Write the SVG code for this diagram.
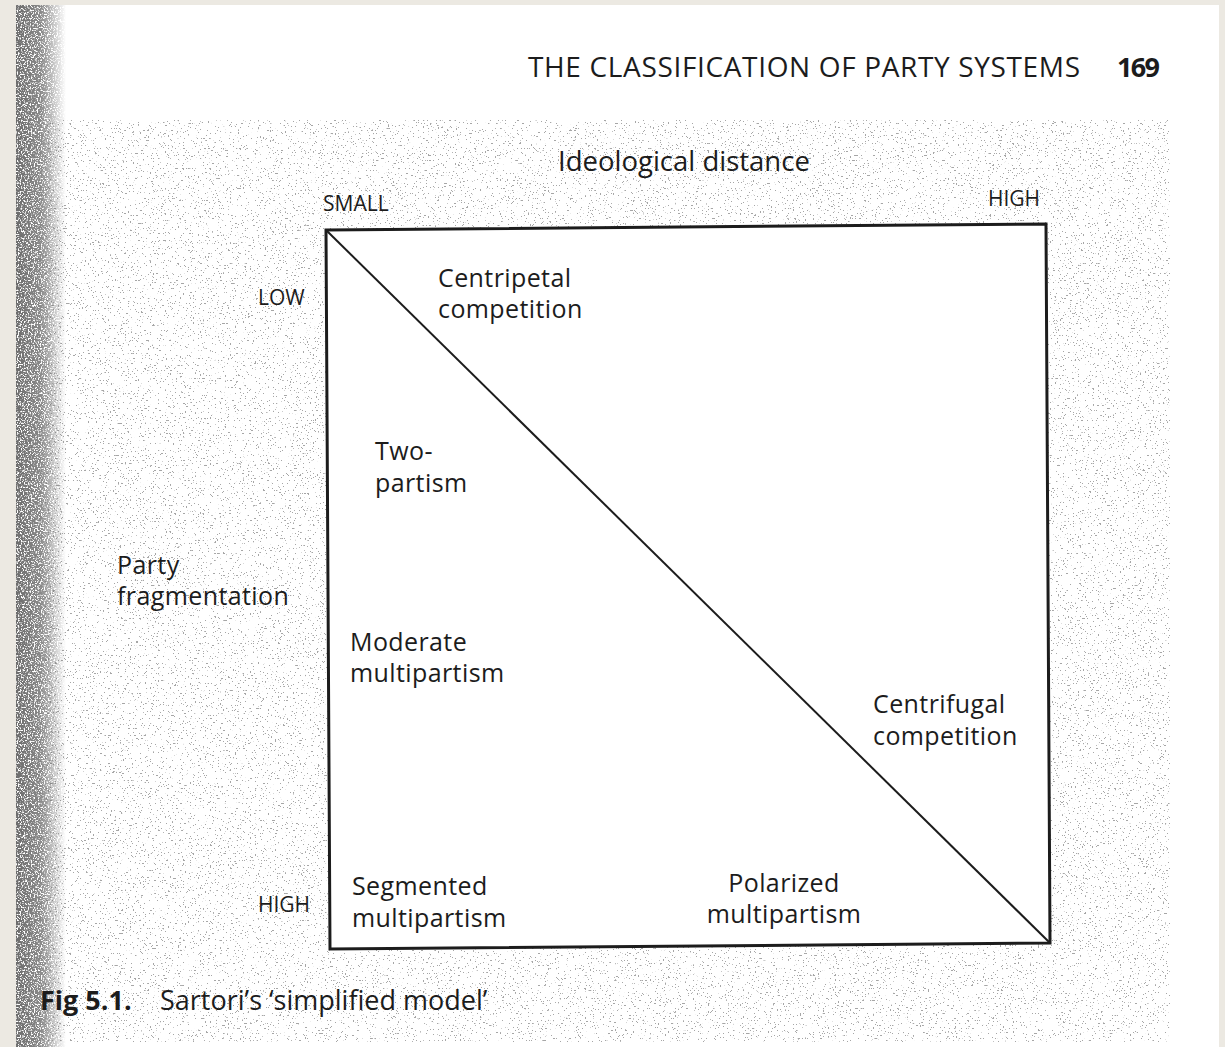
<svg xmlns="http://www.w3.org/2000/svg" width="1225" height="1047" viewBox="0 0 1225 1047">
  <defs>
    <style>
      .t { font-family: "Open Sans", "Lato", "Liberation Sans", sans-serif; fill: #1c1c1c; }
      .lbl { font-size: 25px; letter-spacing: 0.4px; }
      .ax { font-size: 21px; }
      .frame { fill: #ffffff; stroke: #1c1c1c; stroke-width: 3; }
      .diag { stroke: #1c1c1c; stroke-width: 2; }
    </style>
    <filter id="stipple" x="0" y="0" width="100%" height="100%" filterUnits="objectBoundingBox">
      <feTurbulence type="fractalNoise" baseFrequency="0.6" numOctaves="2" seed="7" result="n"/>
      <feColorMatrix in="n" type="matrix" values="0 0 0 0 0.15  0 0 0 0 0.15  0 0 0 0 0.15  -30 0 0 0 9.8"/>
    </filter>
    <filter id="edgenoise" x="0" y="0" width="100%" height="100%" filterUnits="objectBoundingBox">
      <feTurbulence type="fractalNoise" baseFrequency="0.7" numOctaves="2" seed="3" result="n"/>
      <feColorMatrix in="n" type="matrix" values="0 0 0 0 0.15  0 0 0 0 0.15  0 0 0 0 0.15  -6 0 0 0 4.0"/>
    </filter>
    <linearGradient id="fade" x1="0" y1="0" x2="1" y2="0">
      <stop offset="0" stop-color="#fff" stop-opacity="1"/>
      <stop offset="0.5" stop-color="#fff" stop-opacity="0.8"/>
      <stop offset="1" stop-color="#fff" stop-opacity="0"/>
    </linearGradient>
    <mask id="edgemask" maskUnits="userSpaceOnUse" x="16" y="5" width="50" height="1042">
      <rect x="16" y="5" width="50" height="1042" fill="url(#fade)"/>
    </mask>
  </defs>

  <!-- page -->
  <rect x="0" y="0" width="1225" height="1047" fill="#ece9e2"/>
  <rect x="16" y="5" width="1203" height="1042" fill="#ffffff"/>
  <!-- stipple texture of the scan -->
  <rect x="45" y="120" width="1125" height="922" fill="#000" filter="url(#stipple)" opacity="0.6"/>
  <g mask="url(#edgemask)">
    <rect x="16" y="5" width="50" height="1042" fill="#000" filter="url(#edgenoise)"/>
  </g>

  <!-- header -->
  <g id="header">
    <text class="t" x="528" y="77" font-size="28" textLength="552">THE CLASSIFICATION OF PARTY SYSTEMS</text>
    <text class="t" x="1117" y="77" font-size="27" font-weight="bold" textLength="43">169</text>
  </g>

  <!-- chart frame -->
  <g id="frame">
    <polygon class="frame" points="326,230 1046,224 1050,943 330,949"/>
  </g>

  <g id="connectors">
    <line class="diag" x1="327" y1="231" x2="1049" y2="942"/>
  </g>

  <!-- axis titles and ends -->
  <g id="x-axis">
    <text class="t" x="558" y="171" font-size="27.5">Ideological distance</text>
    <text class="t ax" x="323" y="211">SMALL</text>
    <text class="t ax" x="988" y="206">HIGH</text>
  </g>
  <g id="y-axis">
    <text class="t lbl" x="117" y="574">Party</text>
    <text class="t lbl" x="117" y="605">fragmentation</text>
    <text class="t ax" x="258" y="305">LOW</text>
    <text class="t ax" x="258" y="912">HIGH</text>
  </g>

  <!-- region labels -->
  <g id="centripetal">
    <text class="t lbl" x="438" y="287">Centripetal</text>
    <text class="t lbl" x="438" y="318">competition</text>
  </g>
  <g id="two-partism">
    <text class="t lbl" x="375" y="460">Two-</text>
    <text class="t lbl" x="375" y="492">partism</text>
  </g>
  <g id="moderate">
    <text class="t lbl" x="350" y="651">Moderate</text>
    <text class="t lbl" x="350" y="682">multipartism</text>
  </g>
  <g id="centrifugal">
    <text class="t lbl" x="873" y="713">Centrifugal</text>
    <text class="t lbl" x="873" y="745">competition</text>
  </g>
  <g id="segmented">
    <text class="t lbl" x="352" y="895">Segmented</text>
    <text class="t lbl" x="352" y="927">multipartism</text>
  </g>
  <g id="polarized">
    <text class="t lbl" x="784" y="892" text-anchor="middle">Polarized</text>
    <text class="t lbl" x="784" y="923" text-anchor="middle">multipartism</text>
  </g>

  <!-- caption -->
  <g id="caption">
    <text class="t" x="40" y="1010" font-size="27" font-weight="bold">Fig 5.1.</text>
    <text class="t" x="160" y="1010" font-size="27">Sartori’s ‘simplified model’</text>
  </g>
</svg>
